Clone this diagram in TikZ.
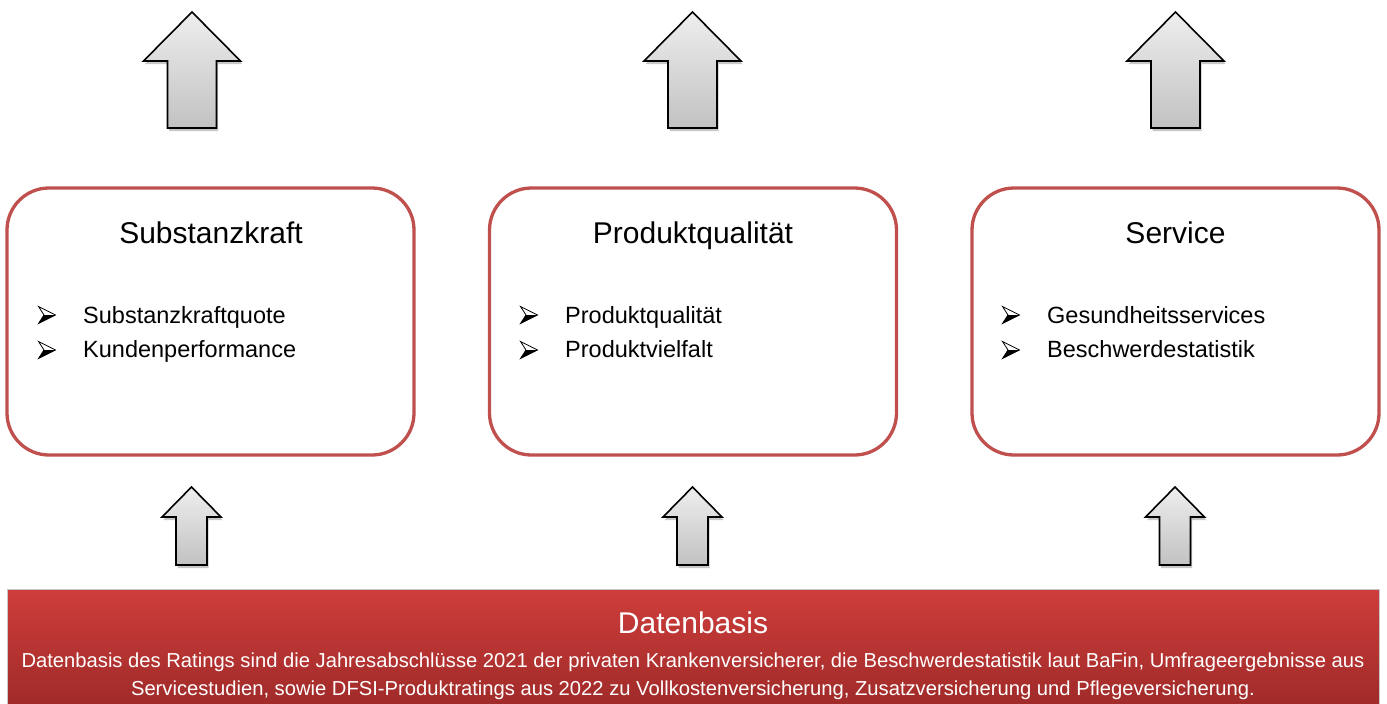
\documentclass[tikz,border=0pt]{standalone}
\usepackage{fontspec}
\setmainfont{Liberation Sans}
\definecolor{boxred}{HTML}{C0504D}
\definecolor{arrtop}{HTML}{EEEEEE}
\definecolor{arrbot}{HTML}{C2C2C2}
\definecolor{bantop}{HTML}{CE3D3B}
\definecolor{banbot}{HTML}{A02B29}
\tikzset{
  arrowbody/.style={draw=black, line width=1.6pt, top color=arrtop, bottom color=arrbot, line join=miter},
  arrowshadow/.style={fill=black, opacity=0.22, draw=none},
  pics/bigup/.style={code={
    \path[arrowshadow, shift={(1.5,3)}] (0,0) -- (48.5,49) -- (24.5,49) -- (24.5,116) -- (-24.5,116) -- (-24.5,49) -- (-48.5,49) -- cycle;
    \path[arrowbody] (0,0) -- (48.5,49) -- (24.5,49) -- (24.5,116) -- (-24.5,116) -- (-24.5,49) -- (-48.5,49) -- cycle;
  }},
  pics/smallup/.style={code={
    \path[arrowshadow, shift={(1.5,3)}] (0,0) -- (29.5,30) -- (15.5,30) -- (15.5,78) -- (-15.5,78) -- (-15.5,30) -- (-29.5,30) -- cycle;
    \path[arrowbody] (0,0) -- (29.5,30) -- (15.5,30) -- (15.5,78) -- (-15.5,78) -- (-15.5,30) -- (-29.5,30) -- cycle;
  }},
  pics/bul/.style={code={
    \path[draw=black, line width=0.8pt, fill=white, line join=miter] (8.5,0) -- (-8.5,-8.5) -- (-3,0) -- (-8.5,8.5) -- cycle;
    \path[fill=black] (8.5,0) -- (-3,0) -- (-8.5,8.5) -- cycle;
  }},
  catbox/.style={draw=boxred, line width=3.3pt, rounded corners=42pt, minimum width=407pt, minimum height=267pt, inner sep=0pt},
  cattitle/.style={anchor=base, font=\fontsize{30}{36}\selectfont, inner sep=0pt},
  item/.style={anchor=base west, font=\fontsize{23.5}{28}\selectfont, inner sep=0pt},
  banner/.style={draw=gray!45, line width=0.8pt, top color=bantop, bottom color=banbot, minimum width=1372pt, minimum height=115pt, inner sep=0pt},
  bantitle/.style={anchor=base, text=white, font=\fontsize{30}{36}\selectfont, inner sep=0pt},
  bantext/.style={anchor=base, text=white, font=\fontsize{20.2}{24}\selectfont, inner sep=0pt},
}
\begin{document}
\begin{tikzpicture}[x=1pt, y=-1pt]
\useasboundingbox (0,0) rectangle (1387,704);
\fill[white] (0,0) rectangle (1387,704);

% top arrows
\pic at (192,12) {bigup};
\pic at (692.5,12) {bigup};
\pic at (1175.5,12) {bigup};

% boxes
\node[catbox] (b1) at (210.5,321.5) {};
\node[catbox] (b2) at (693,321.5) {};
\node[catbox] (b3) at (1175.5,321.5) {};

\node[cattitle] (t1) at (211,243) {Substanzkraft};
\node[cattitle] (t2) at (693,243) {Produktqualität};
\node[cattitle] (t3) at (1175.5,243) {Service};

\pic at (47,315) {bul};
\pic at (47,350) {bul};
\node[item] (i11) at (83,323) {Substanzkraftquote};
\node[item] (i12) at (83,357) {Kundenperformance};

\pic at (529,315) {bul};
\pic at (529,350) {bul};
\node[item] (i21) at (565,323) {Produktqualität};
\node[item] (i22) at (565,357) {Produktvielfalt};

\pic at (1011,315) {bul};
\pic at (1011,350) {bul};
\node[item] (i31) at (1047,323) {Gesundheitsservices};
\node[item] (i32) at (1047,357) {Beschwerdestatistik};

% bottom arrows
\pic at (191.5,487) {smallup};
\pic at (692.5,487) {smallup};
\pic at (1175,487) {smallup};

% banner
\node[banner] (db) at (693,646.5) {};
\node[bantitle] (dbt) at (693,633) {Datenbasis};
\node[bantext] (dbl1) at (693,667) {Datenbasis des Ratings sind die Jahresabschlüsse 2021 der privaten Krankenversicherer, die Beschwerdestatistik laut BaFin, Umfrageergebnisse aus};
\node[bantext] (dbl2) at (693,695) {Servicestudien, sowie DFSI-Produktratings aus 2022 zu Vollkostenversicherung, Zusatzversicherung und Pflegeversicherung.};
\end{tikzpicture}
\end{document}
